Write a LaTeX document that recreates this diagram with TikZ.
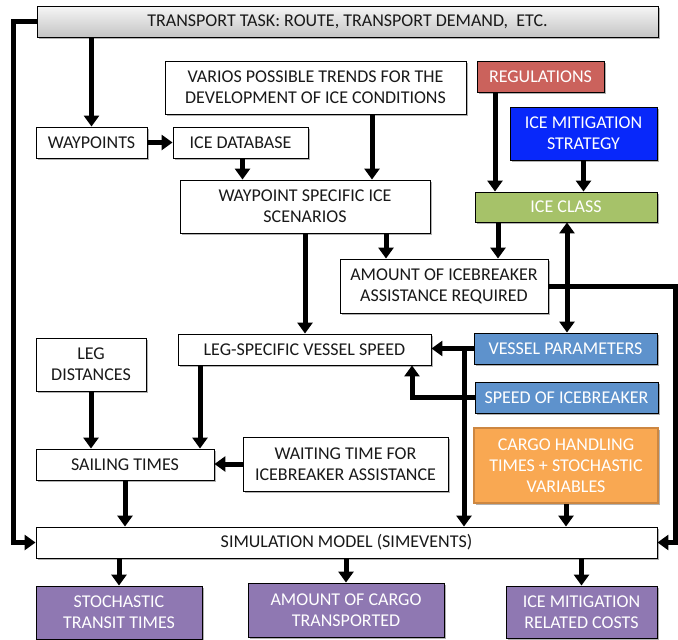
\documentclass[tikz,border=0pt]{standalone}
\usepackage{fontspec}
\setmainfont{Carlito}
\usetikzlibrary{arrows.meta,shadows,calc}
\definecolor{regred}{RGB}{203,98,92}
\definecolor{imsblue}{RGB}{8,40,250}
\definecolor{icegreen}{RGB}{166,194,105}
\definecolor{vpblue}{RGB}{94,146,204}
\definecolor{cargoorange}{RGB}{249,168,82}
\definecolor{cargoborder}{RGB}{205,135,65}
\definecolor{outpurple}{RGB}{143,120,178}
\definecolor{ttgraytop}{RGB}{246,246,246}
\definecolor{ttgraybot}{RGB}{196,196,196}
\begin{document}
\begin{tikzpicture}[x=1pt,y=-1pt,
  base/.style={draw=black, line width=0.9pt, inner sep=0pt, align=center,
    font=\fontsize{18}{21}\selectfont,
    drop shadow={shadow xshift=1.5pt,shadow yshift=-1.5pt,opacity=0.3,fill=black}},
  wbox/.style={base, fill=white, text=black!90},
  cbox/.style={base, text=white},
  arr/.style={line width=5pt, -{Triangle[length=11pt,width=15pt]}},
  darr/.style={line width=5pt, {Triangle[length=11pt,width=15pt]}-{Triangle[length=11pt,width=15pt]}}
]
\useasboundingbox (0,0) rectangle (678,640);

% nodes
\node[base, top color=ttgraytop, bottom color=ttgraybot, text=black!90, minimum width=621pt, minimum height=31pt] (tt) at (347.5,21.5) {TRANSPORT TASK: ROUTE, TRANSPORT DEMAND,\ \ ETC.};
\node[wbox, minimum width=301pt, minimum height=53pt] (trends) at (315.5,87.5) {VARIOS POSSIBLE TRENDS FOR THE\\DEVELOPMENT OF ICE CONDITIONS};
\node[cbox, fill=regred, minimum width=127pt, minimum height=31pt] (reg) at (540.5,76.5) {REGULATIONS};
\node[cbox, fill=imsblue, minimum width=147pt, minimum height=53pt] (ims) at (583.5,133.5) {ICE MITIGATION\\STRATEGY};
\node[wbox, minimum width=111pt, minimum height=31pt] (wp) at (91.5,142.5) {WAYPOINTS};
\node[wbox, minimum width=135pt, minimum height=31pt] (icedb) at (240.5,142.5) {ICE DATABASE};
\node[wbox, minimum width=250pt, minimum height=53pt] (wsis) at (305,206.5) {WAYPOINT SPECIFIC ICE\\SCENARIOS};
\node[cbox, fill=icegreen, minimum width=182pt, minimum height=30pt] (iceclass) at (566,207) {ICE CLASS};
\node[wbox, minimum width=208pt, minimum height=54pt] (amount) at (444,286) {AMOUNT OF ICEBREAKER\\ASSISTANCE REQUIRED};
\node[wbox, minimum width=110pt, minimum height=53pt] (legdist) at (91,364.5) {LEG\\DISTANCES};
\node[wbox, minimum width=253pt, minimum height=31pt] (legspeed) at (304.5,349.5) {LEG-SPECIFIC VESSEL SPEED};
\node[cbox, fill=vpblue, minimum width=183pt, minimum height=31pt] (vp) at (565.5,348.5) {VESSEL PARAMETERS};
\node[cbox, fill=vpblue, minimum width=183pt, minimum height=31pt] (sib) at (566.5,397.5) {SPEED OF ICEBREAKER};
\node[cbox, fill=cargoorange, draw=cargoborder, line width=1.5pt, minimum width=184pt, minimum height=75pt] (cargo) at (566,465.5) {CARGO HANDLING\\TIMES + STOCHASTIC\\VARIABLES};
\node[wbox, minimum width=205pt, minimum height=54pt] (wait) at (345.5,464) {WAITING TIME FOR\\ICEBREAKER ASSISTANCE};
\node[wbox, minimum width=178pt, minimum height=31pt] (sail) at (125,464.5) {SAILING TIMES};
\node[wbox, minimum width=621pt, minimum height=31pt] (sim) at (346.5,542.5) {SIMULATION MODEL (SIMEVENTS)};
\node[cbox, fill=outpurple, minimum width=166pt, minimum height=53pt] (stt) at (119,612.5) {STOCHASTIC\\TRANSIT TIMES};
\node[cbox, fill=outpurple, minimum width=196pt, minimum height=54pt] (cargot) at (346,610) {AMOUNT OF CARGO\\TRANSPORTED};
\node[cbox, fill=outpurple, minimum width=151pt, minimum height=52pt] (imc) at (581.5,612) {ICE MITIGATION\\RELATED COSTS};

% connectors
\coordinate (lc) at (13,21.5);
\draw[arr] (tt.west) -- (lc) |- (sim.west);
\draw[arr] (wp.north |- tt.south) -- (wp.north);
\draw[arr] (wp.east) -- (icedb.west);
\draw[arr] ([xshift=2pt]icedb.south) -- ([xshift=2pt]icedb.south |- wsis.north);
\draw[arr] ([xshift=56.5pt]trends.south) -- ([xshift=56.5pt]trends.south |- wsis.north);
\draw[arr] ([xshift=81pt]wsis.south) -- ([xshift=81pt]wsis.south |- amount.north);
\draw[arr] (wsis.south) -- (wsis.south |- legspeed.north);
\draw[arr] ([xshift=-45.5pt]reg.south) -- ([xshift=-45.5pt]reg.south |- iceclass.north);
\draw[arr] (ims.south) -- (ims.south |- iceclass.north);
\draw[arr] ([xshift=-68pt]iceclass.south) -- ([xshift=-68pt]iceclass.south |- amount.north);
\draw[darr] ([xshift=1pt]iceclass.south) -- ([xshift=1pt]iceclass.south |- vp.north);
\coordinate (rc) at (675,286);
\draw[arr] (amount.east) -- (rc) |- (sim.east);
\draw[arr] (vp.west) -- (vp.west -| legspeed.east);
\coordinate (j1) at (464,348.5);
\draw[arr] (j1) -- (j1 |- sim.north);
\draw[arr] (sib.west) -| ([xshift=107.5pt]legspeed.south);
\draw[arr] (cargo.south) -- (cargo.south |- sim.north);
\draw[arr] (legdist.south) -- (legdist.south |- sail.north);
\draw[arr] ([xshift=-104.5pt]legspeed.south) -- ([xshift=-104.5pt]legspeed.south |- sail.north);
\draw[arr] (wait.west) -- (wait.west -| sail.east);
\draw[arr] (sail.south) -- (sail.south |- sim.north);
\draw[arr] (stt.north |- sim.south) -- (stt.north);
\draw[arr] (cargot.north |- sim.south) -- (cargot.north);
\draw[arr] (imc.north |- sim.south) -- (imc.north);
\end{tikzpicture}
\end{document}
